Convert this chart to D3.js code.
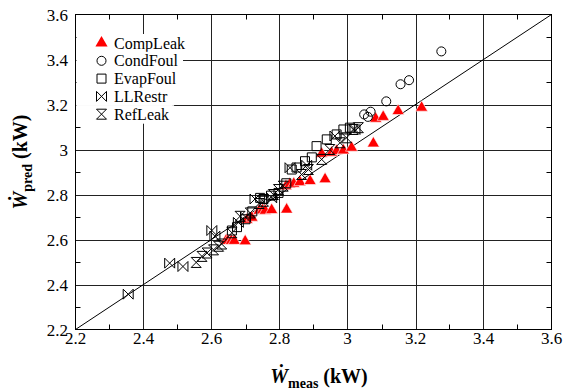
<!DOCTYPE html>
<html><head><meta charset="utf-8">
<script src="https://cdn.jsdelivr.net/npm/d3@7"></script>
<style>body{margin:0;background:#fff} svg text{font-family:"Liberation Serif","Times New Roman",serif;fill:#000}</style>
</head><body><svg id="c" width="566" height="391"></svg>
<script>
// ---- data ----
const seriesNames = ["CompLeak","CondFoul","EvapFoul","LLRestr","RefLeak"];
const compLeakX = [2.643,2.648,2.658,2.667,2.699,2.704,2.719,2.740,2.750,2.758,2.777,2.821,2.819,2.830,2.842,2.860,2.890,2.934,2.924,2.953,2.968,2.988,3.012,3.076,3.083,3.105,3.149,3.218];
const compLeakY = [2.596,2.594,2.594,2.594,2.592,2.688,2.697,2.728,2.730,2.728,2.731,2.733,2.837,2.845,2.848,2.855,2.860,2.868,2.981,2.986,2.993,2.996,3.008,3.027,3.137,3.145,3.171,3.186];
const condFoulX = [3.049,3.068,3.060,3.114,3.156,3.181,3.276];
const condFoulY = [3.156,3.168,3.145,3.214,3.290,3.308,3.436];
const evapFoulX = [2.660,2.675,2.700,2.720,2.743,2.753,2.775,2.797,2.820,2.836,2.850,2.875,2.895,2.909,2.939,2.968,2.988,3.007];
const evapFoulY = [2.640,2.655,2.690,2.725,2.785,2.780,2.795,2.807,2.850,2.911,2.920,2.948,2.965,3.015,3.045,3.067,3.089,3.097];
const llRestrX = [2.355,2.477,2.516,2.601,2.610,2.679,2.700,2.728,2.777,2.831,2.880,2.963,3.022];
const llRestrY = [2.357,2.495,2.480,2.640,2.615,2.676,2.700,2.780,2.785,2.919,2.930,3.060,3.089];
const refLeakX = [2.555,2.572,2.587,2.606,2.621,2.630,2.660,2.684,2.714,2.740,2.753,2.782,2.797,2.811,2.865,2.885,2.924,2.948,2.978,2.997,3.017,3.032];
const refLeakY = [2.498,2.525,2.540,2.554,2.570,2.580,2.630,2.703,2.718,2.760,2.770,2.800,2.822,2.837,2.889,2.911,2.956,3.000,3.030,3.052,3.089,3.097];
const xTickVals = [2.2,2.4,2.6,2.8,3.0,3.2,3.4,3.6];
const xTickLabels = ["2.2","2.4","2.6","2.8","3","3.2","3.4","3.6"];
const yTickVals = [2.2,2.4,2.6,2.8,3.0,3.2,3.4,3.6];
const yTickLabels = ["2.2","2.4","2.6","2.8","3","3.2","3.4","3.6"];
const minorVals = [2.3,2.5,2.7,2.9,3.1,3.3,3.5];

const FONT = "'Liberation Serif','Times New Roman',serif";

// ---- symbols ----
const bowtie = {draw(ctx,size){const h=Math.sqrt(size)/2;
  ctx.moveTo(-h,-h);ctx.lineTo(-h,h);ctx.lineTo(h,-h);ctx.lineTo(h,h);ctx.closePath();}};
const hourglass = {draw(ctx,size){const h=Math.sqrt(size)/2;
  ctx.moveTo(-h,-h);ctx.lineTo(h,-h);ctx.lineTo(-h,h);ctx.lineTo(h,h);ctx.closePath();}};

const series = [
  {name:"CompLeak", xs:compLeakX, ys:compLeakY, type:d3.symbolTriangle, size:64, fill:"#ff0000", stroke:"#fff", sw:0.6},
  {name:"CondFoul", xs:condFoulX, ys:condFoulY, type:d3.symbolCircle, size:64, fill:"none", stroke:"#000", sw:1},
  {name:"EvapFoul", xs:evapFoulX, ys:evapFoulY, type:d3.symbolSquare, size:81, fill:"none", stroke:"#000", sw:1},
  {name:"LLRestr", xs:llRestrX, ys:llRestrY, type:bowtie, size:100, fill:"none", stroke:"#000", sw:1},
  {name:"RefLeak", xs:refLeakX, ys:refLeakY, type:hourglass, size:100, fill:"none", stroke:"#000", sw:1}
];

const svg = d3.select("#c");
const L=75.5, R=551.5, T=14.5, B=329.5;
const x = d3.scaleLinear().domain([2.2,3.6]).range([L,R]);
const y = d3.scaleLinear().domain([2.2,3.6]).range([B,T]);

svg.append("rect").attr("x",0).attr("y",0).attr("width",566).attr("height",391).attr("fill","#fff");

// grid
const g = svg.append("g");
g.selectAll(".gx").data(xTickVals.slice(1,-1)).join("line")
  .attr("x1",d=>Math.round(x(d))+0.5).attr("x2",d=>Math.round(x(d))+0.5).attr("y1",T).attr("y2",B)
  .attr("stroke","#222").attr("stroke-width",1);
g.selectAll(".gy").data(yTickVals.slice(1,-1)).join("line")
  .attr("y1",d=>Math.round(y(d))+0.5).attr("y2",d=>Math.round(y(d))+0.5).attr("x1",L).attr("x2",R)
  .attr("stroke","#222").attr("stroke-width",1);

// minor ticks (inside, all sides)
const tl=5;
minorVals.forEach(v=>{
  const px=Math.round(x(v))+0.5, py=Math.round(y(v))+0.5;
  g.append("line").attr("x1",px).attr("x2",px).attr("y1",B).attr("y2",B-tl).attr("stroke","#000");
  g.append("line").attr("x1",px).attr("x2",px).attr("y1",T).attr("y2",T+tl).attr("stroke","#000");
  g.append("line").attr("y1",py).attr("y2",py).attr("x1",L).attr("x2",L+tl).attr("stroke","#000");
  g.append("line").attr("y1",py).attr("y2",py).attr("x1",R).attr("x2",R-tl).attr("stroke","#000");
});

// legend (white backing over grid)
const lg = svg.append("g");
const legY0=43, legDy=17.8;
series.forEach((s,i)=>{
  const cy=legY0+i*legDy;
  const bg=lg.append("rect").attr("fill","#fff");
  const t=lg.append("text").attr("x",114).attr("y",cy+5.5).attr("font-size",16)
    .attr("font-family",FONT).text(s.name);
  const w=t.node().getComputedTextLength();
  bg.attr("x",L+1).attr("y",cy-9).attr("width",114+w+5-(L+1)).attr("height",18.5);
  const sym=d3.symbol().type(s.type).size(s.size);
  lg.append("path").attr("d",sym).attr("transform",`translate(101.5,${cy})`)
    .attr("fill",s.fill).attr("stroke",s.name==="CompLeak"?"none":s.stroke).attr("stroke-width",1);
});

// diagonal
svg.append("clipPath").attr("id","clip").append("rect").attr("x",L).attr("y",T).attr("width",R-L).attr("height",B-T);
svg.append("line").attr("clip-path","url(#clip)")
  .attr("x1",x(2.2)).attr("y1",y(2.2)).attr("x2",x(3.6)).attr("y2",y(3.6))
  .attr("stroke","#000").attr("stroke-width",1);

// points
series.forEach(s=>{
  const sym=d3.symbol().type(s.type).size(s.size);
  svg.append("g").selectAll("path").data(s.xs.map((v,i)=>[v,s.ys[i]])).join("path")
    .attr("d",sym).attr("transform",d=>`translate(${x(d[0])},${y(d[1])})`)
    .attr("fill",s.fill).attr("stroke",s.stroke).attr("stroke-width",s.sw);
});

// frame
svg.append("rect").attr("x",L).attr("y",T).attr("width",R-L).attr("height",B-T)
  .attr("fill","none").attr("stroke","#000").attr("stroke-width",1);

// tick labels
svg.append("g").selectAll("text").data(xTickVals).join("text")
  .attr("x",d=>x(d)).attr("y",344).attr("text-anchor","middle").attr("font-size",17)
  .attr("font-family",FONT).text((d,i)=>xTickLabels[i]);
svg.append("g").selectAll("text").data(yTickVals).join("text")
  .attr("x",68).attr("y",d=>y(d)+6).attr("text-anchor","end").attr("font-size",17)
  .attr("font-family",FONT).text((d,i)=>yTickLabels[i]);

// axis titles
const xt=svg.append("text").attr("x",319).attr("y",383).attr("text-anchor","middle").attr("font-size",20)
  .attr("font-weight","bold").attr("font-family",FONT);
xt.append("tspan").attr("font-style","italic").text("\u1E86");
xt.append("tspan").attr("font-size",14).attr("dy",5).text("meas");
xt.append("tspan").attr("dy",-5).text(" (kW)");

const yt=svg.append("text").attr("transform","translate(27,162) rotate(-90)").attr("text-anchor","middle")
  .attr("font-size",20).attr("font-weight","bold").attr("font-family",FONT);
yt.append("tspan").attr("font-style","italic").text("\u1E86");
yt.append("tspan").attr("font-size",14).attr("dy",5).text("pred");
yt.append("tspan").attr("dy",-5).text(" (kW)");
</script></body></html>
